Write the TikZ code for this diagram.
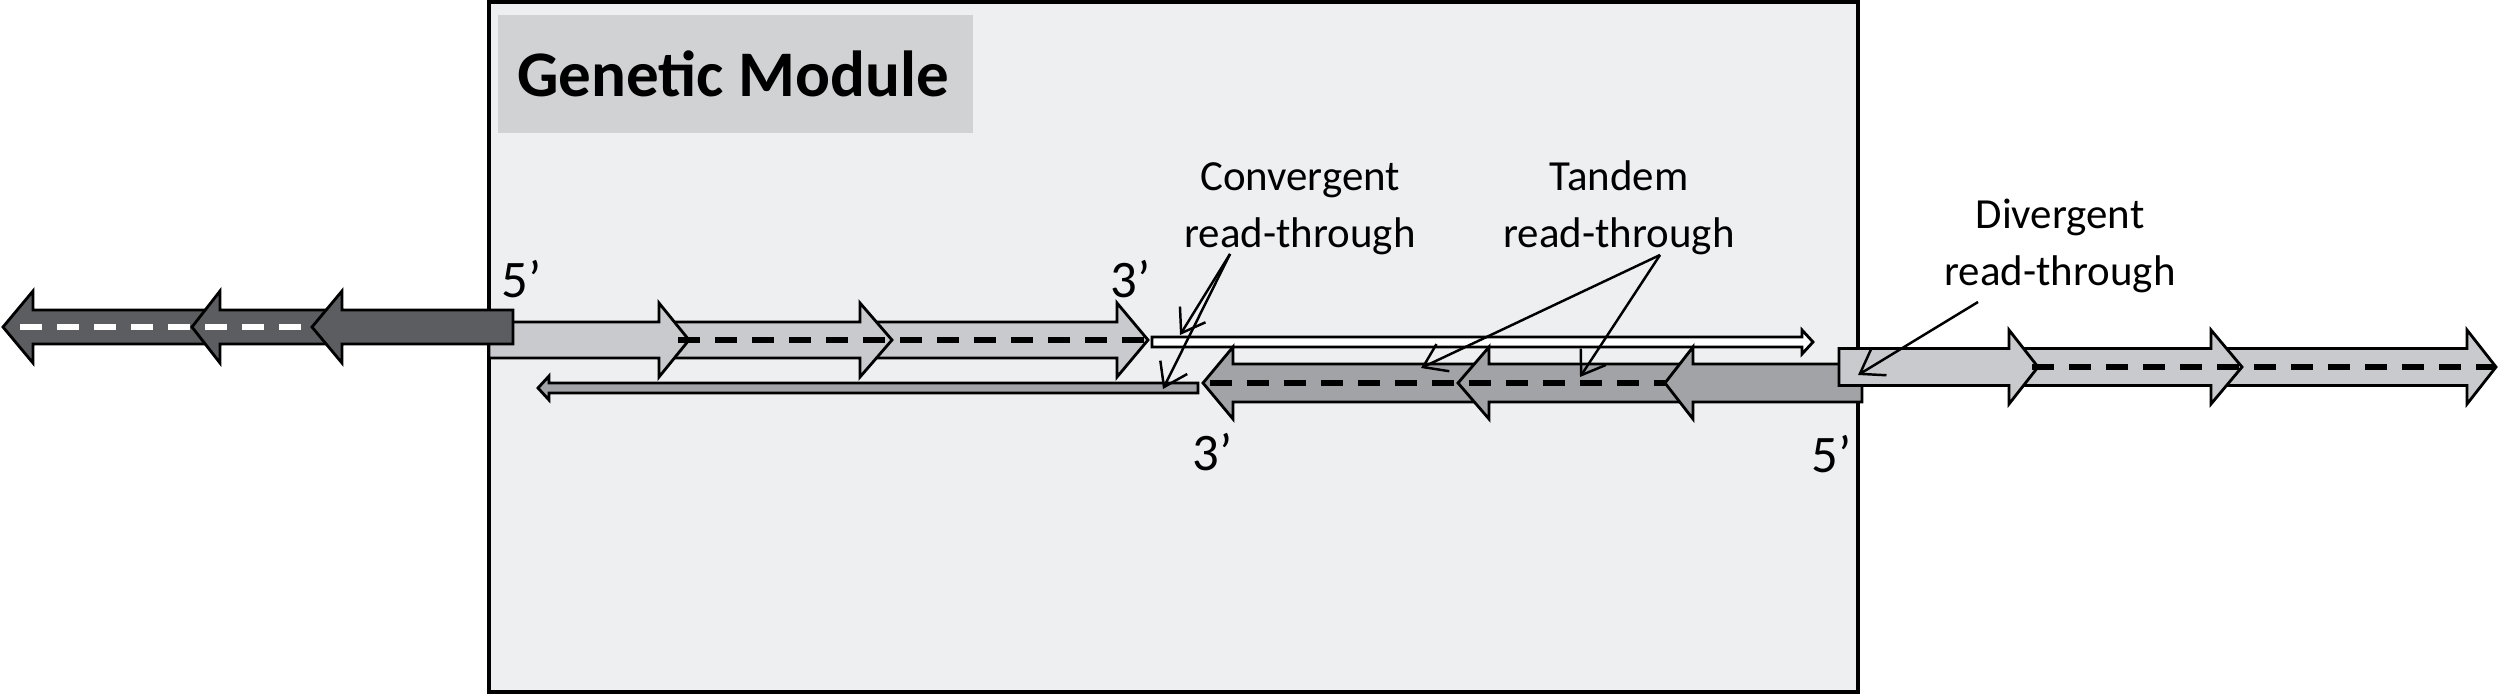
\documentclass[tikz,border=0pt]{standalone}
\usepackage{fontspec}
\setmainfont{Carlito}
\usetikzlibrary{arrows.meta}
\definecolor{boxbg}{HTML}{EEEFF1}
\definecolor{titlebg}{HTML}{D1D2D4}
\definecolor{darkg}{HTML}{5C5D61}
\definecolor{lightg}{HTML}{C9CACD}
\definecolor{midg}{HTML}{A2A3A7}
% fill, back end x, head base x, tip x, centre y, half body, half head
\newcommand\blockarrow[7]{\draw[blk,fill=#1] (#2,{#5-#6}) -- (#3,{#5-#6}) -- (#3,{#5-#7}) -- (#4,#5) -- (#3,{#5+#7}) -- (#3,{#5+#6}) -- (#2,{#5+#6}) -- cycle;}
\begin{document}
\begin{tikzpicture}[x=0.01cm,y=-0.01cm,
  blk/.style={draw=black,line width=0.8pt,line join=miter},
  dashline/.style={line width=1.7pt,dash pattern=on 0.22cm off 0.15cm},
  ptr/.style={line width=0.7pt,-{Straight Barb[length=0.22cm,width=0.3cm]}},
  lbl/.style={font=\fontsize{12.2}{16.2}\selectfont,align=center,inner sep=0pt},
  prime/.style={font=\fontsize{15}{18}\selectfont,inner sep=0pt,anchor=base west}]
\useasboundingbox (0,0) rectangle (2500,694);
% module box
\draw[fill=boxbg,line width=0.9pt] (489,2) rectangle (1858,692);
\fill[titlebg] (498,15) rectangle (973,133);
\node[font=\fontsize{18.5}{22}\bfseries\selectfont,anchor=base,inner sep=0pt] (title) at (733,97) {Genetic Module};
% upper light row inside module
\blockarrow{lightg}{860}{1117}{1148}{340}{18}{37}
\blockarrow{lightg}{659}{860}{892}{340}{18}{37}
\blockarrow{lightg}{489}{659}{689}{340}{18}{37}
\draw[dashline,black] (678,340) -- (1146,340);
% dark left row
\blockarrow{darkg}{220}{33}{3}{327}{17}{36}
\blockarrow{darkg}{342}{220}{192}{327}{17}{36}
\blockarrow{darkg}{513}{342}{312}{327}{17}{36}
\draw[dashline,white] (20,327) -- (302,327);
% thin arrows
\blockarrow{white}{1152}{1802}{1813}{342}{5}{12}
\blockarrow{midg}{1198}{549}{538}{388}{5}{12}
% lower medium row
\blockarrow{midg}{1489}{1233}{1203}{383}{19}{36}
\blockarrow{midg}{1693}{1489}{1458}{383}{19}{36}
\blockarrow{midg}{1862}{1693}{1665}{383}{19}{36}
\draw[dashline,black] (1210,383) -- (1665,383);
% right light row
\blockarrow{lightg}{2211}{2467}{2496}{367}{18.5}{37}
\blockarrow{lightg}{2009}{2211}{2242}{367}{18.5}{37}
\blockarrow{lightg}{1839}{2009}{2038}{367}{18.5}{37}
\draw[dashline,black] (2032,367) -- (2494,367);
% end labels
\node[prime] (p5a) at (501,297) {5’};
\node[prime] (p3a) at (1110,297) {3’};
\node[prime] (p3b) at (1192,470) {3’};
\node[prime] (p5b) at (1811,472) {5’};
% read-through labels (base = last line)
\node[lbl,anchor=base] (conv) at (1300,247) {Convergent\\read-through};
\node[lbl,anchor=base] (tand) at (1619,247) {Tandem\\read-through};
\node[lbl,anchor=base] (div) at (2060,285) {Divergent\\read-through};
\coordinate (capex) at (1230,254);
\coordinate (c1) at (1180,335);
\coordinate (c2) at (1163,389);
\coordinate (tapex) at (1660,255);
\coordinate (t1) at (1421,368);
\coordinate (t2) at (1580,377);
\coordinate (dapex) at (1978,302);
\coordinate (d1) at (1858,375);
\draw[ptr] (capex) -- (c1);
\draw[ptr] (capex) -- (c2);
\draw[ptr] (tapex) -- (t1);
\draw[ptr] (tapex) -- (t2);
\draw[ptr] (dapex) -- (d1);
\end{tikzpicture}
\end{document}
